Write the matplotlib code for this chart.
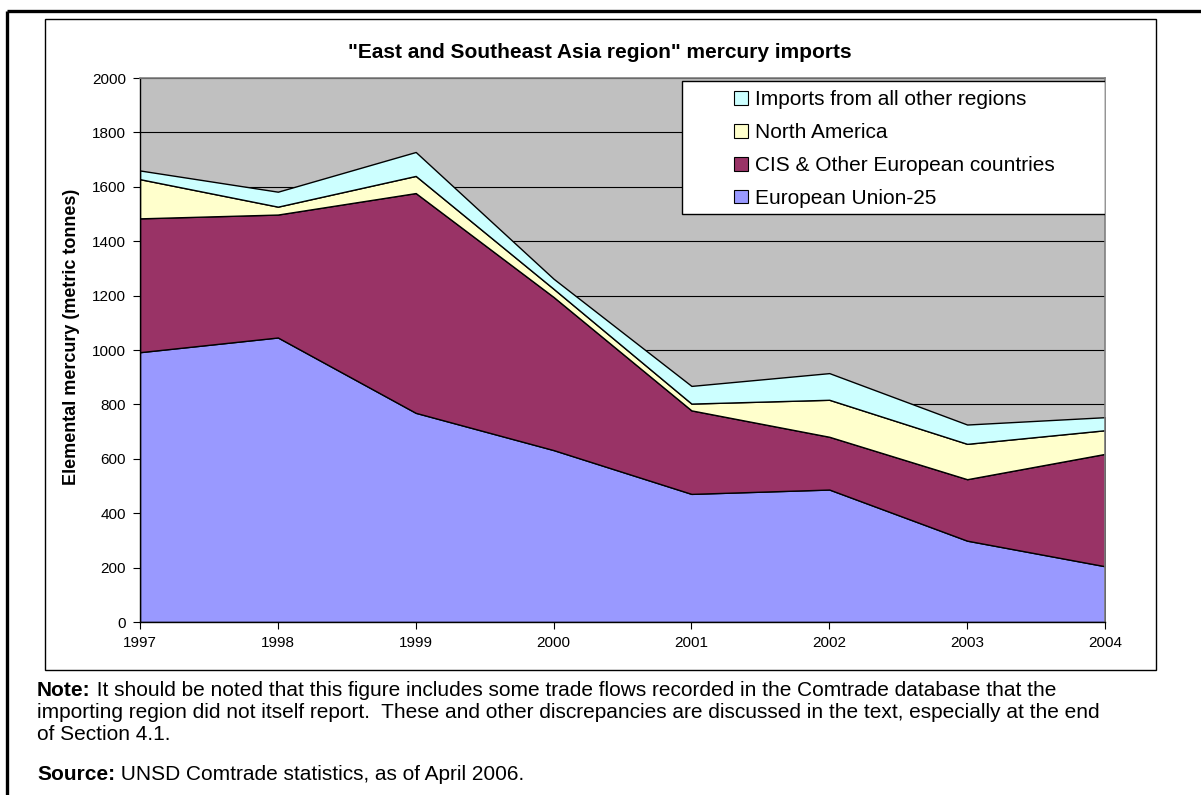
"""
East and Southeast Asia region - mercury imports (stacked area)
"""
import matplotlib
matplotlib.use('Agg')
import matplotlib.pyplot as plt
from matplotlib.patches import Rectangle, Patch
from matplotlib.lines import Line2D

plt.rcParams['font.family'] = ['Liberation Sans', 'DejaVu Sans']

W, H = 1201, 795

years = ['1997', '1998', '1999', '2000', '2001', '2002', '2003', '2004']
eu25 = [992, 1046, 769, 632, 471, 487, 299, 205]
cis_other_europe = [492, 452, 808, 563, 307, 194, 226, 413]
north_america = [144, 29, 63, 30, 25, 136, 130, 87]
all_other = [32, 55, 88, 37, 65, 98, 71, 48]

series_names = ['European Union-25', 'CIS & Other European countries',
                'North America', 'Imports from all other regions']
series_colors = ['#9999FF', '#993366', '#FFFFCC', '#CCFFFF']


def fx(px):
    return px / W


def fy(py):
    return 1 - py / H


fig = plt.figure(figsize=(W / 100, H / 100), dpi=100)

# page frame (thick) and chart frame (thin)
fig.add_artist(Line2D([fx(7), 1.0], [fy(11), fy(11)], lw=2.4, color='black',
                      transform=fig.transFigure, solid_capstyle='butt'))
fig.add_artist(Line2D([fx(7), fx(7)], [fy(11), 0.0], lw=2.4, color='black',
                      transform=fig.transFigure, solid_capstyle='butt'))
fig.add_artist(Rectangle((fx(45), fy(670)), fx(1156) - fx(45), fy(19) - fy(670),
                         transform=fig.transFigure, fill=False,
                         edgecolor='black', lw=1))

ax = fig.add_axes([fx(140), fy(622), fx(1105) - fx(140), fy(78) - fy(622)])
ax.set_facecolor('#C0C0C0')
x = list(range(len(years)))
ax.stackplot(x, eu25, cis_other_europe, north_america, all_other,
             colors=series_colors, edgecolor='black', linewidth=1.0)

ax.set_xlim(0, len(years) - 1)
ax.set_ylim(0, 2000)
ax.set_xticks(x)
ax.set_xticklabels(years)
ax.set_yticks(range(0, 2001, 200))
ax.tick_params(axis='both', direction='out', length=5, width=0.8,
               labelsize=11, color='black', pad=5)
ax.set_axisbelow(True)
ax.yaxis.grid(True, color='black', lw=0.8)
for side in ['left', 'bottom']:
    ax.spines[side].set_color('black')
    ax.spines[side].set_linewidth(1.0)
for side in ['top', 'right']:
    ax.spines[side].set_color('#808080')
    ax.spines[side].set_linewidth(1.2)

# legend (frame drawn separately so it can be wider than its content)
ax.add_patch(Rectangle(((682 - 140) / 965, 0.75),
                       1.0 - (682 - 140) / 965, 0.9945 - 0.75,
                       transform=ax.transAxes, facecolor='white',
                       edgecolor='black', lw=1, zorder=5))
handles = [Patch(facecolor=c, edgecolor='black', lw=0.8)
           for c in series_colors][::-1]
leg = ax.legend(handles, series_names[::-1], loc='upper left',
                bbox_to_anchor=((734 - 140) / 965, 0.978), frameon=False,
                fontsize=15, handlelength=0.65, handleheight=0.65,
                handletextpad=0.35, labelspacing=0.67, borderpad=0,
                borderaxespad=0)
leg.set_zorder(6)

fig.text(fx(600), fy(52), '"East and Southeast Asia region" mercury imports',
         ha='center', va='center', fontsize=15, fontweight='bold')
fig.text(fx(72), fy(337), 'Elemental mercury (metric tonnes)', rotation=90,
         ha='center', va='center', fontsize=13, fontweight='bold')

# notes under the chart
NOTE_SIZE = 15
note_b = fig.text(fx(37), fy(691), 'Note:', ha='left', va='center',
                  fontsize=NOTE_SIZE, fontweight='bold')
ax.annotate(' It should be noted that this figure includes some trade flows '
            'recorded in the Comtrade database that the',
            xy=(1, 0), xycoords=note_b, ha='left', va='bottom',
            fontsize=NOTE_SIZE, annotation_clip=False)
fig.text(fx(37), fy(713), 'importing region did not itself report.  These and '
         'other discrepancies are discussed in the text, especially at the end',
         ha='left', va='center', fontsize=NOTE_SIZE)
fig.text(fx(37), fy(735), 'of Section 4.1.', ha='left', va='center',
         fontsize=NOTE_SIZE)
src_b = fig.text(fx(37), fy(775), 'Source:', ha='left', va='center',
                 fontsize=NOTE_SIZE, fontweight='bold')
ax.annotate(' UNSD Comtrade statistics, as of April 2006.',
            xy=(1, 0), xycoords=src_b, ha='left', va='bottom',
            fontsize=NOTE_SIZE, annotation_clip=False)

fig.savefig('out.png', dpi=100)
